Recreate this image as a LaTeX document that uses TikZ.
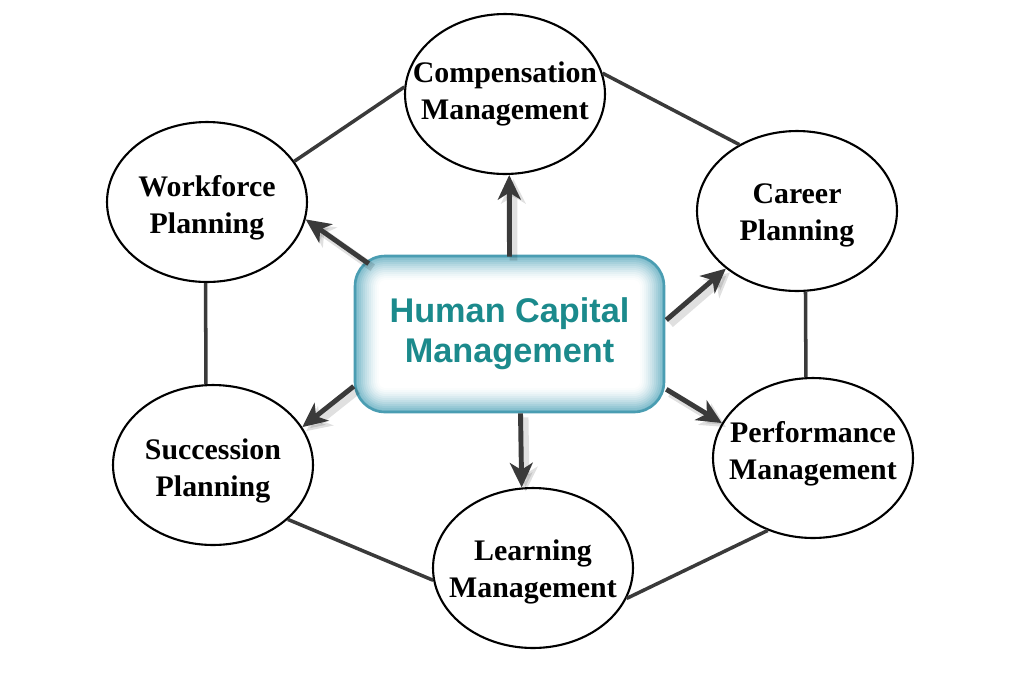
\documentclass[tikz,border=0pt]{standalone}
\usepackage{fontspec}
\setmainfont{Liberation Serif}
\newfontfamily\hcmfont{Liberation Sans}
\usetikzlibrary{arrows.meta,calc,shapes.geometric}

\definecolor{hcmtext}{HTML}{1B8A8C}
\definecolor{hcmedge}{HTML}{4A9DB2}
\definecolor{hcmglow}{HTML}{7DBBCB}
\definecolor{linkgray}{HTML}{3A3A3A}

\tikzset{
  area/.style={ellipse,draw=black,line width=1.2pt,fill=white,
    minimum width=4cm,minimum height=3.2cm,inner xsep=-16pt,inner ysep=0pt,
    text height=32.8pt,
    align=center,font=\fontsize{17}{21}\selectfont\bfseries},
  link/.style={draw=linkgray,line width=2pt},
  push/.style={draw=linkgray,line width=2.8pt,
    -{Stealth[length=14pt,width=13pt,inset=4pt]}},
  pushshadow/.style={draw=black,opacity=.12,line width=4.5pt,
    -{Stealth[length=14pt,width=14pt,inset=4pt]}},
}

\begin{document}
\begin{tikzpicture}[x=0.02cm,y=-0.02cm]
    \useasboundingbox (0,0) rectangle (1024,684);

    % the six areas
    \node[area] (comp) at (505,94) {Compensation\\Management};
    \node[area,text height=40pt] (work) at (207,202) {Workforce\\Planning};
    \node[area,text height=37pt] (care) at (797,211) {Career\\Planning};
    \node[area,text height=40pt] (succ) at (213,465) {Succession\\Planning};
    \node[area,text height=28pt] (perf) at (813,458) {Performance\\Management};
    \node[area,text height=37pt] (lear) at (533,568) {Learning\\Management};

    % ring round the areas
    \draw[link] (work.25) -- (comp.176);
    \draw[link] (comp.12) -- (care.131);
    \draw[link] (care.-84) -- (perf.95);
    \draw[link] (perf.238) -- (lear.-18);
    \draw[link] (lear.187) -- (succ.-36);
    \draw[link] (succ.95) -- (work.-91);

    % centre box, drawn as an inner glow
    \coordinate (hcmnw) at (355,256);
    \coordinate (hcmse) at (664,412);
    \foreach \d/\p in {0/100,2/90,4/79,6/68,8/57,10/47,12/38,14/29,16/21,18/14,20/8,22/3,24/0}
        \fill[hcmglow!\p!white,rounded corners=30*0.02cm-\d*0.02cm]
            ($(hcmnw)+(\d,\d)$) rectangle ($(hcmse)-(\d,\d)$);
    \node[draw=hcmedge,line width=1.5pt,rounded corners=0.6cm,
        minimum width=6.18cm,minimum height=3.12cm,align=center,
        text=hcmtext,font=\hcmfont\fontsize{19.5}{23}\selectfont\bfseries]
        (hcm) at (509.5,334) {Human Capital\\Management};

    % arrows out of the box
    \coordinate (a1) at ($(hcm.north west)+(15,9)$);
    \coordinate (a2) at ($(hcm.north)+(0,2)$);
    \coordinate (a3) at ($(hcm.east)+(1,-14)$);
    \coordinate (a4) at ($(hcm.south east)+(1,-24)$);
    \coordinate (a5) at ($(hcm.south)+(11,0)$);
    \coordinate (a6) at ($(hcm.south west)+(0,-27)$);

    \foreach \s/\e in {a1/work.-10,a2/comp.-87,a3/care.219,a4/perf.159,a5/lear.98,a6/succ.23}
        \draw[pushshadow] ($(\s)+(4,4)$) -- ($(\e)+(4,4)$);
    \draw[push] (a1) -- (work.-10);
    \draw[push] (a2) -- (comp.-87);
    \draw[push] (a3) -- (care.219);
    \draw[push] (a4) -- (perf.159);
    \draw[push] (a5) -- (lear.98);
    \draw[push] (a6) -- (succ.23);
\end{tikzpicture}
\end{document}
